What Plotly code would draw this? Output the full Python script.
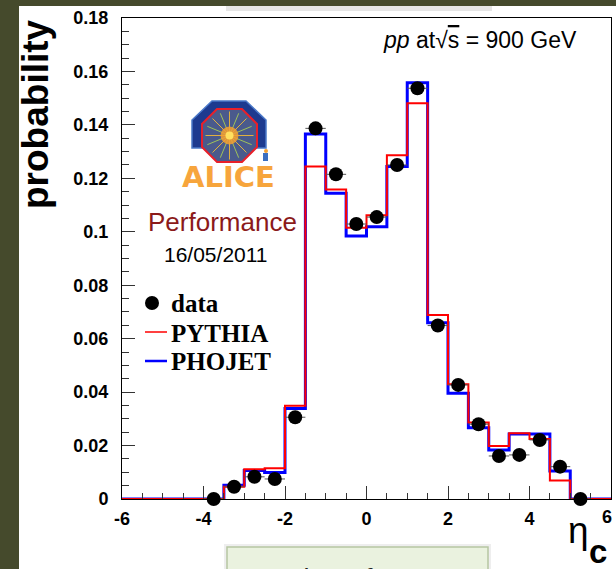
import math
import plotly.graph_objects as go

# ---------------- data ----------------
bin_edges = [-6 + 0.5 * i for i in range(25)]
pythia = [0, 0, 0, 0, 0, 0.0046, 0.0111, 0.0115, 0.0349, 0.1244, 0.1158, 0.1015,
          0.1062, 0.1286, 0.1481, 0.0689, 0.0429, 0.0286, 0.0198, 0.0246, 0.0225,
          0.0069, 0, 0]
phojet = [0, 0, 0, 0, 0, 0.0051, 0.0107, 0.0099, 0.0339, 0.1366, 0.1144, 0.0984,
          0.1019, 0.1244, 0.1558, 0.0660, 0.0396, 0.0267, 0.0183, 0.0243, 0.0243,
          0.0105, 0, 0]
data_x = [-3.75, -3.25, -2.75, -2.25, -1.75, -1.25, -0.75, -0.25, 0.25, 0.75, 1.25,
          1.75, 2.25, 2.75, 3.25, 3.75, 4.25, 4.75, 5.25]
data_y = [0, 0.0046, 0.0083, 0.0075, 0.0306, 0.1387, 0.1215, 0.1029, 0.1055, 0.125,
          0.1537, 0.0649, 0.0427, 0.028, 0.0161, 0.0165, 0.0221, 0.0121, 0]
x_ticks = [-6, -4, -2, 0, 2, 4, 6]
x_ticktext = ["-6", "-4", "-2", "0", "2", "4", ""]   # "6" drawn shifted inward, as in the original
y_ticks = [0, 0.02, 0.04, 0.06, 0.08, 0.1, 0.12, 0.14, 0.16, 0.18]
y_ticktext = ["0", "0.02", "0.04", "0.06", "0.08", "0.1", "0.12", "0.14", "0.16", "0.18"]

# ---------------- layout geometry ----------------
W, H = 616, 569
L, R, T, B = 122, 611, 18, 499  # plot area in pixels


def px(x):
    return (x - L) / (R - L)


def py(y):
    return (B - y) / (B - T)


SANS = "Liberation Sans, Arial, Helvetica, sans-serif"
SERIF = "Liberation Serif, Times New Roman, serif"

fig = go.Figure()

fig.add_trace(go.Scatter(
    x=bin_edges, y=phojet + [phojet[-1]], mode="lines", line_shape="hv",
    line=dict(color="#0000ff", width=3), showlegend=False, hoverinfo="skip"))
fig.add_trace(go.Scatter(
    x=bin_edges, y=pythia + [pythia[-1]], mode="lines", line_shape="hv",
    line=dict(color="#ff0000", width=2), showlegend=False, hoverinfo="skip"))
fig.add_trace(go.Scatter(
    x=data_x, y=data_y, mode="markers",
    marker=dict(color="black", size=14, line=dict(width=0)),
    error_x=dict(type="constant", value=0.25, color="#555555", thickness=1, width=0),
    showlegend=False, cliponaxis=False))

shapes = []
annotations = []

# dark page border (left and top)
shapes.append(dict(type="rect", xref="paper", yref="paper", x0=px(0), x1=px(19),
                   y0=py(H + 5), y1=py(-5), fillcolor="#454a2c", line=dict(width=0), layer="above"))
shapes.append(dict(type="rect", xref="paper", yref="paper", x0=px(0), x1=px(W + 5),
                   y0=py(6), y1=py(-5), fillcolor="#454a2c", line=dict(width=0), layer="above"))
# faint shadow of a box above
shapes.append(dict(type="rect", xref="paper", yref="paper", x0=px(226), x1=px(492),
                   y0=py(11), y1=py(6), fillcolor="#e6e6e6", line=dict(width=0), layer="above"))
# bottom box (partially visible)
shapes.append(dict(type="rect", xref="paper", yref="paper", x0=px(224), x1=px(491),
                   y0=py(H + 10), y1=py(544), fillcolor="#eeeeee", line=dict(width=0), layer="above"))
shapes.append(dict(type="rect", xref="paper", yref="paper", x0=px(227), x1=px(488),
                   y0=py(H + 10), y1=py(547), fillcolor="#eaf2df",
                   line=dict(color="#b6c6a2", width=1.5), layer="above"))
annotations.append(dict(x=px(249), y=py(562), xref="paper", yref="paper", text="number of",
                        showarrow=False, xanchor="left", yanchor="top",
                        font=dict(family=SANS, size=27, color="#222222")))


# ALICE logo (approximation)
def path(pts):
    return "M " + " L ".join(f"{px(a):.5f},{py(b):.5f}" for a, b in pts) + " Z"


outer = [(212, 101), (246, 101), (266, 120), (266, 148), (192, 148), (192, 120)]
shapes.append(dict(type="path", xref="paper", yref="paper", path=path(outer),
                   fillcolor="#1d3a8f", line=dict(color="#4a78c8", width=1.5), layer="above"))
octa = [(217, 109), (242, 109), (257, 124), (257, 147), (242, 162), (217, 162), (202, 147), (202, 124)]
shapes.append(dict(type="path", xref="paper", yref="paper", path=path(octa),
                   fillcolor="#4a5a8c", line=dict(color="#e8202a", width=2), layer="above"))
cx, cy = 229.5, 135.5
for k in range(16):
    a = k * math.pi / 8
    shapes.append(dict(type="line", xref="paper", yref="paper",
                       x0=px(cx), y0=py(cy), x1=px(cx + 24 * math.cos(a)), y1=py(cy + 24 * math.sin(a)),
                       line=dict(color="#9fc25a" if k % 2 else "#e0b040", width=1), layer="above"))
shapes.append(dict(type="circle", xref="paper", yref="paper", x0=px(cx - 9), x1=px(cx + 9),
                   y0=py(cy + 9), y1=py(cy - 9), fillcolor="#f4a030", opacity=0.85,
                   line=dict(width=0), layer="above"))
shapes.append(dict(type="circle", xref="paper", yref="paper", x0=px(cx - 4), x1=px(cx + 4),
                   y0=py(cy + 4), y1=py(cy - 4), fillcolor="#ffe060",
                   line=dict(width=0), layer="above"))
shapes.append(dict(type="rect", xref="paper", yref="paper", x0=px(263), x1=px(268),
                   y0=py(161), y1=py(153), fillcolor="#3b6fc0", line=dict(width=0), layer="above"))
shapes.append(dict(type="circle", xref="paper", yref="paper", x0=px(264), x1=px(268),
                   y0=py(153), y1=py(149), fillcolor="#f4a030", line=dict(width=0), layer="above"))
annotations.append(dict(x=px(228.5), y=py(177), xref="paper", yref="paper", text="<b>ALICE</b>",
                        showarrow=False, xanchor="center", yanchor="middle",
                        font=dict(family="DejaVu Sans, sans-serif", size=29, color="#f7a53c")))

annotations.append(dict(x=px(222), y=py(222), xref="paper", yref="paper", text="Performance",
                        showarrow=False, xanchor="center", yanchor="middle",
                        font=dict(family=SANS, size=26, color="#8b1a1a")))
annotations.append(dict(x=px(216), y=py(254), xref="paper", yref="paper", text="16/05/2011",
                        showarrow=False, xanchor="center", yanchor="middle",
                        font=dict(family=SANS, size=21, color="black")))

# legend (manual, ROOT style)
shapes.append(dict(type="circle", xref="paper", yref="paper", x0=px(145), x1=px(159),
                   y0=py(310), y1=py(296), fillcolor="black", line=dict(width=0), layer="above"))
shapes.append(dict(type="line", xref="paper", yref="paper", x0=px(145), x1=px(167),
                   y0=py(332), y1=py(332), line=dict(color="#ff0000", width=1.5), layer="above"))
shapes.append(dict(type="line", xref="paper", yref="paper", x0=px(145), x1=px(167),
                   y0=py(361), y1=py(361), line=dict(color="#0000ff", width=2.5), layer="above"))
for txt, yy in [("data", 303), ("PYTHIA", 333), ("PHOJET", 361)]:
    annotations.append(dict(x=px(169), y=py(yy), xref="paper", yref="paper", text=f"<b>{txt}</b>",
                            showarrow=False, xanchor="left", yanchor="middle",
                            font=dict(family=SERIF, size=25, color="black")))

# energy label
annotations.append(dict(x=px(381), y=py(40), xref="paper", yref="paper",
                        text="<i>pp</i> at√<span style='text-decoration:overline'>s</span> = 900 GeV",
                        showarrow=False, xanchor="left", yanchor="middle",
                        font=dict(family=SANS, size=23, color="black")))

# axis titles
annotations.append(dict(x=px(35), y=py(114), xref="paper", yref="paper", text="<b>probability</b>",
                        textangle=-90, showarrow=False, xanchor="center", yanchor="middle",
                        font=dict(family=SANS, size=37, color="black")))
annotations.append(dict(x=px(578), y=py(530), xref="paper", yref="paper", text="η",
                        showarrow=False, xanchor="center", yanchor="middle",
                        font=dict(family=SANS, size=37, color="black")))
annotations.append(dict(x=px(598), y=py(551), xref="paper", yref="paper", text="<b>c</b>",
                        showarrow=False, xanchor="center", yanchor="middle",
                        font=dict(family=SANS, size=33, color="black")))
# last x tick label "6"
annotations.append(dict(x=px(607), y=py(517), xref="paper", yref="paper", text="<b>6</b>",
                        showarrow=False, xanchor="center", yanchor="middle",
                        font=dict(family=SANS, size=18, color="black")))

tickfont = dict(family=SANS, size=18, color="black", weight="bold")

fig.update_layout(
    width=W, height=H,
    margin=dict(l=L, r=W - R, t=T, b=H - B, pad=0),
    paper_bgcolor="white", plot_bgcolor="white",
    shapes=shapes, annotations=annotations,
    xaxis=dict(range=[-6, 6], tickvals=x_ticks, ticktext=x_ticktext,
               ticks="inside", ticklen=13, tickcolor="#333333", tickwidth=1,
               minor=dict(dtick=0.5, tick0=-6, ticks="inside", ticklen=6, tickcolor="#333333", showgrid=False),
               showline=True, linecolor="black", linewidth=1, mirror=True,
               showgrid=False, zeroline=False, tickfont=tickfont, ticklabelstandoff=3),
    yaxis=dict(range=[0, 0.18], tickvals=y_ticks, ticktext=y_ticktext,
               ticks="inside", ticklen=13, tickcolor="#333333", tickwidth=1,
               minor=dict(dtick=0.005, tick0=0, ticks="inside", ticklen=7, tickcolor="#333333", showgrid=False),
               showline=True, linecolor="black", linewidth=1, mirror=True,
               showgrid=False, zeroline=False, tickfont=tickfont, ticklabelstandoff=9),
)

fig.write_html("out.html")
